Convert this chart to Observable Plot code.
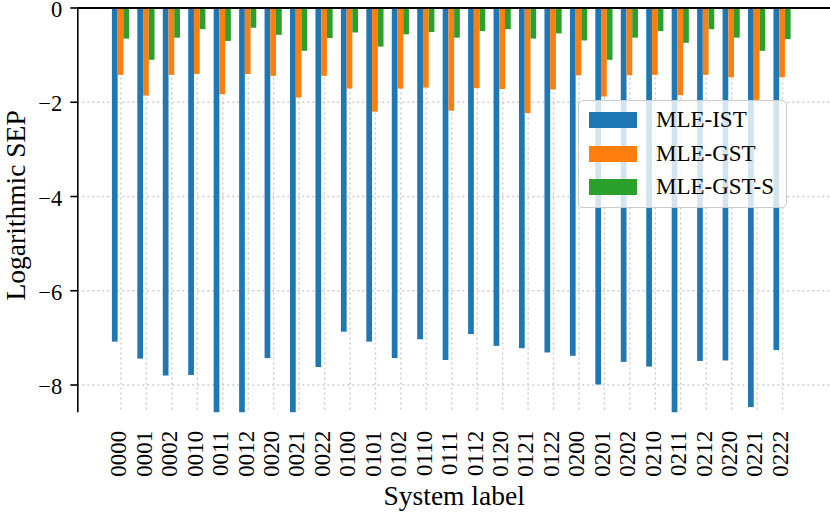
<!DOCTYPE html>
<html>
<head>
<meta charset="utf-8">
<script src="https://cdn.jsdelivr.net/npm/d3@7"></script>
<script src="https://cdn.jsdelivr.net/npm/@observablehq/plot@0.6"></script>
<style>
  html, body { margin: 0; padding: 0; background: #fff; }
  #wrap { position: relative; width: 830px; height: 512px; font-family: "Liberation Serif", "DejaVu Serif", serif; }
  #legend { position: absolute; left: 578px; top: 100px; width: 209px; height: 108px; box-sizing: border-box;
    border: 1.2px solid #cccccc; border-radius: 5px; background: rgba(255,255,255,0.8); }
  .row { position: absolute; left: 0; height: 24px; display: flex; align-items: center; }
  .sw { width: 48px; height: 16px; margin-left: 10px; margin-right: 19px; }
  .lab { font-size: 23px; color: #000; line-height: 24px; white-space: nowrap; }
</style>
</head>
<body>
<div id="wrap"></div>
<script>
const categories = ["0000","0001","0002","0010","0011","0012","0020","0021","0022",
                    "0100","0101","0102","0110","0111","0112","0120","0121","0122",
                    "0200","0201","0202","0210","0211","0212","0220","0221","0222"];
const seriesNames = ["MLE-IST","MLE-GST","MLE-GST-S"];
const seriesColors = ["#1f77b4","#ff7f0e","#2ca02c"];
const mleIST = [-7.09,-7.45,-7.81,-7.80,-8.90,-8.90,-7.44,-8.90,-7.63,
                -6.88,-7.09,-7.44,-7.04,-7.48,-6.93,-7.18,-7.23,-7.32,
                -7.39,-8.00,-7.52,-7.62,-8.90,-7.50,-7.49,-8.48,-7.27];
const mleGST = [-1.43,-1.87,-1.43,-1.41,-1.84,-1.41,-1.45,-1.91,-1.45,
                -1.72,-2.21,-1.72,-1.70,-2.19,-1.71,-1.73,-2.24,-1.74,
                -1.44,-1.89,-1.44,-1.43,-1.86,-1.43,-1.48,-1.96,-1.48];
const mleGSTS = [-0.66,-1.11,-0.64,-0.46,-0.71,-0.43,-0.58,-0.92,-0.65,
                 -0.53,-0.83,-0.57,-0.52,-0.64,-0.50,-0.46,-0.66,-0.55,
                 -0.70,-1.11,-0.64,-0.50,-0.75,-0.46,-0.64,-0.92,-0.67];
const yTicks = [-8,-6,-4,-2,0];

const seriesValues = [mleIST, mleGST, mleGSTS];
const barW = 0.225;
const xDomain = [-1.697, 27.885];
const yDomain = [-8.59, 0];
const serif = "Liberation Serif";
const idx = d3.range(categories.length);

const rows = categories.flatMap((c, i) =>
  seriesValues.map((vals, j) => ({ i, cat: c, j, series: seriesNames[j], value: vals[i] })));

const gridStyle = { stroke: "#b8b8b8", strokeOpacity: 0.7, strokeWidth: 1.5, strokeDasharray: "2,3" };
const fmtY = d3.format("d");

const chart = Plot.plot({
  width: 830,
  height: 512,
  marginLeft: 77.3,
  marginRight: 0,
  marginTop: 7.5,
  marginBottom: 99.7,
  style: { fontFamily: serif, fontSize: "22px", background: "white", color: "black" },
  x: { domain: xDomain, axis: null },
  y: { domain: yDomain, axis: null },
  color: { domain: seriesNames, range: seriesColors },
  marks: [
    Plot.gridY(yTicks.filter(t => t !== 0), gridStyle),
    Plot.gridX(idx, gridStyle),
    Plot.rect(rows, {
      x1: d => d.i + (d.j - 1.5) * barW,
      x2: d => d.i + (d.j - 0.5) * barW,
      y1: 0,
      y2: "value",
      fill: "series",
      clip: true
    }),
    Plot.ruleY([0], { stroke: "black", strokeWidth: 2.2 }),
    Plot.ruleX([xDomain[0]], { stroke: "black", strokeWidth: 1.6 }),
    Plot.axisY({ ticks: yTicks, tickSize: 7, tickFormat: () => "", label: null, strokeWidth: 1.6 }),
    Plot.text(yTicks, { y: d => d, text: d => fmtY(d), frameAnchor: "left", textAnchor: "end", lineAnchor: "middle",
      dx: -15.6, dy: 2, fontSize: 22.5, fontFamily: serif }),
    Plot.text(idx, { x: d => d, text: i => categories[i], frameAnchor: "bottom", rotate: -90,
      textAnchor: "end", lineAnchor: "middle", dx: -2, dy: 18, fontSize: 23, fontFamily: serif }),
    Plot.text(["Logarithmic SEP"], { text: d => d, frameAnchor: "left", textAnchor: "middle", lineAnchor: "middle",
      dx: -62, dy: -5, rotate: -90, fontSize: 27.5, fontFamily: serif }),
    Plot.text(["System label"], { text: d => d, frameAnchor: "bottom", textAnchor: "middle", lineAnchor: "middle",
      dy: 83, fontSize: 27.5, fontFamily: serif })
  ]
});

const wrap = document.getElementById("wrap");
wrap.appendChild(chart);

const legend = document.createElement("div");
legend.id = "legend";
const rowTops = [6.6, 40.6, 74];
seriesNames.forEach((name, k) => {
  const r = document.createElement("div");
  r.className = "row";
  r.style.top = rowTops[k] + "px";
  const sw = document.createElement("div");
  sw.className = "sw";
  sw.style.background = seriesColors[k];
  const lab = document.createElement("span");
  lab.className = "lab";
  lab.textContent = name;
  r.appendChild(sw);
  r.appendChild(lab);
  legend.appendChild(r);
});
wrap.appendChild(legend);
</script>
</body>
</html>
